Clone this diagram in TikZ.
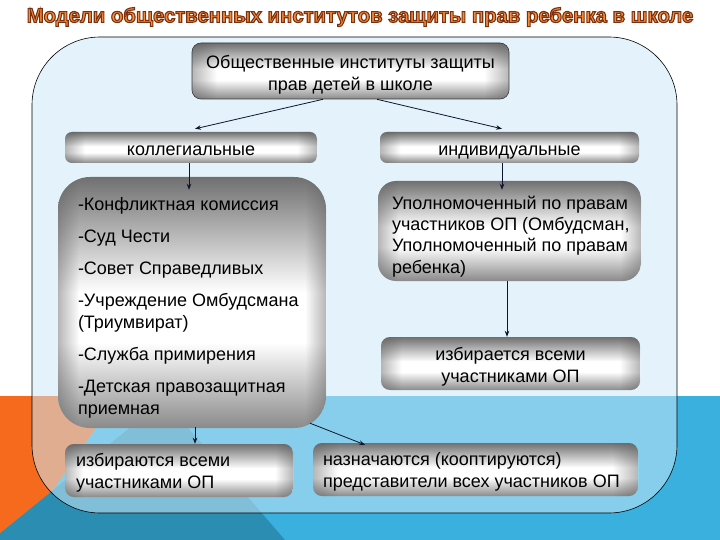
\documentclass[tikz,border=0pt]{standalone}
\usepackage{fontspec}
\setmainfont{Liberation Sans}
\usetikzlibrary{arrows.meta,fadings}

\definecolor{bgblue}{RGB}{58,176,222}
\definecolor{bgteal}{RGB}{44,141,178}
\definecolor{bgorange}{RGB}{246,106,30}
\definecolor{panelfill}{RGB}{205,234,249}
\definecolor{titlefill}{RGB}{242,140,62}
\definecolor{arrowcol}{RGB}{15,20,45}
\definecolor{gdark}{RGB}{112,112,112}
\definecolor{gmid}{RGB}{138,138,138}
\definecolor{gedge}{RGB}{90,90,90}

\pgfdeclareverticalshading{cylshade}{100bp}{color(0bp)=(gmid); color(25bp)=(gmid); color(42bp)=(white); color(52bp)=(white); color(75bp)=(gdark); color(100bp)=(gdark)}
\pgfdeclarehorizontalshading{edgeshade}{100bp}{color(0bp)=(pgftransparent!0); color(25bp)=(pgftransparent!0); color(29bp)=(pgftransparent!100); color(71bp)=(pgftransparent!100); color(75bp)=(pgftransparent!0); color(100bp)=(pgftransparent!0)}
\pgfdeclarefading{edgefade}{\pgfuseshading{edgeshade}}

\newcommand{\outlineon}{\special{pdf:literal direct 0.49 0.19 0.05 RG 1.1 w 2 Tr}}
\newcommand{\outlineoff}{\special{pdf:literal direct 0 Tr}}

\tikzset{
  boxshape/.style={shape=rectangle, shading=cylshade, rounded corners=#1, inner sep=0pt,
    path picture={\fill[gedge, fill opacity=0.45, path fading=edgefade, fit fading=true]
      (path picture bounding box.south west) rectangle (path picture bounding box.north east);}},
  boxshape/.default=8pt,
  boxtext/.style={anchor=west, align=left, inner sep=0pt, font=\fontsize{18}{22}\selectfont},
  ctext/.style={align=center, inner sep=0pt, font=\fontsize{18}{22}\selectfont},
  arr/.style={draw=arrowcol, line width=0.8pt, -{Stealth[length=6pt,width=4.5pt]}},
}

\begin{document}
\begin{tikzpicture}[x=1pt,y=-1pt]
\useasboundingbox (0,0) rectangle (720,540);
% background
\fill[white] (0,0) rectangle (720,540);
\fill[bgblue] (0,396) rectangle (720,540);
\fill[bgteal] (0,533) -- (164,400) -- (285,540) -- (0,540) -- cycle;
\fill[bgorange] (0,396) -- (118,396) -- (53,490) -- (0,533) -- cycle;

% title
\node (title) at (360,17) {\fontsize{20.3}{24}\selectfont\bfseries\color{titlefill}\outlineon Модели общественных институтов защиты прав ребенка в школе\outlineoff};

% panel
\path[draw=black, line width=0.6pt, fill=panelfill, fill opacity=0.53, rounded corners=68pt]
  (32,37) rectangle (677,513);

% boxes
\node[boxshape=9pt, minimum width=317pt, minimum height=56pt,
      draw=gray!45!black, line width=0.6pt] (top) at (350.5,71) {};
\node[ctext] (toptext) at ([yshift=-4pt]top.center) {Общественные институты защиты\\прав детей в школе};

\node[boxshape=7pt, minimum width=252pt, minimum height=31pt] (kol) at (191,147.5) {};
\node[ctext, text height=13pt, text depth=4pt] (koltext) at ([yshift=-3.5pt]kol.center) {коллегиальные};
\node[boxshape=7pt, minimum width=259pt, minimum height=31pt] (ind) at (509.5,147.5) {};
\node[ctext, text height=13pt, text depth=4pt] (indtext) at ([yshift=-3.5pt]ind.center) {индивидуальные};

\node[boxshape=32pt, minimum width=268pt, minimum height=251pt] (big) at (192,302.5) {};
\node[boxtext] (bigtext) at ([xshift=20pt,yshift=-5.5pt]big.west)
  {-Конфликтная комиссия\\[10pt]
   -Суд Чести\\[10pt]
   -Совет Справедливых\\[10pt]
   -Учреждение Омбудсмана\\
   (Триумвират)\\[10pt]
   -Служба примирения\\[10pt]
   -Детская правозащитная\\
   приемная};

\node[boxshape=18pt, minimum width=263pt, minimum height=100pt] (ru) at (509.5,231) {};
\node[boxtext, font=\fontsize{18}{21.3}\selectfont] (rutext) at ([xshift=14pt,yshift=-5.5pt]ru.west)
  {Уполномоченный по правам\\
   участников ОП (Омбудсман,\\
   Уполномоченный по правам\\
   ребенка)};

\node[boxshape=9pt, minimum width=259pt, minimum height=53pt] (izbR) at (510.5,363.5) {};
\node[ctext] (izbRtext) at ([yshift=-3pt]izbR.center) {избирается всеми\\участниками ОП};

\node[boxshape=9pt, minimum width=228pt, minimum height=53pt] (izbL) at (179,470.5) {};
\node[boxtext] (izbLtext) at ([xshift=11pt,yshift=-2pt]izbL.west)
  {избираются всеми\\участниками ОП};

\node[boxshape=9pt, minimum width=325pt, minimum height=53pt] (naz) at (475.5,469.5) {};
\node[boxtext] (naztext) at ([xshift=10pt,yshift=-2.5pt]naz.west)
  {назначаются (кооптируются)\\представители всех участников ОП};

% arrows
\draw[arr] ([xshift=-27.5pt]top.south) -- ([xshift=4pt,yshift=3pt]kol.north);
\draw[arr] ([xshift=26.5pt]top.south) -- ([xshift=-7.5pt,yshift=3pt]ind.north);
\draw[arr] ([xshift=-2pt]kol.south) -- ([xshift=-3pt,yshift=-13pt]big.north);
\draw[arr] ([xshift=-7.5pt]ind.south) -- ([xshift=-7.5pt,yshift=-9pt]ru.north);
\draw[arr] ([xshift=-2.5pt]ru.south) -- ([xshift=-3.5pt]izbR.north);
\draw[arr] ([xshift=3pt,yshift=1pt]big.south) -- ([xshift=16pt]izbL.north);
\draw[arr] ([xshift=118pt,yshift=5pt]big.south) -- ([xshift=-110.5pt,yshift=-2pt]naz.north);
\end{tikzpicture}
\end{document}
